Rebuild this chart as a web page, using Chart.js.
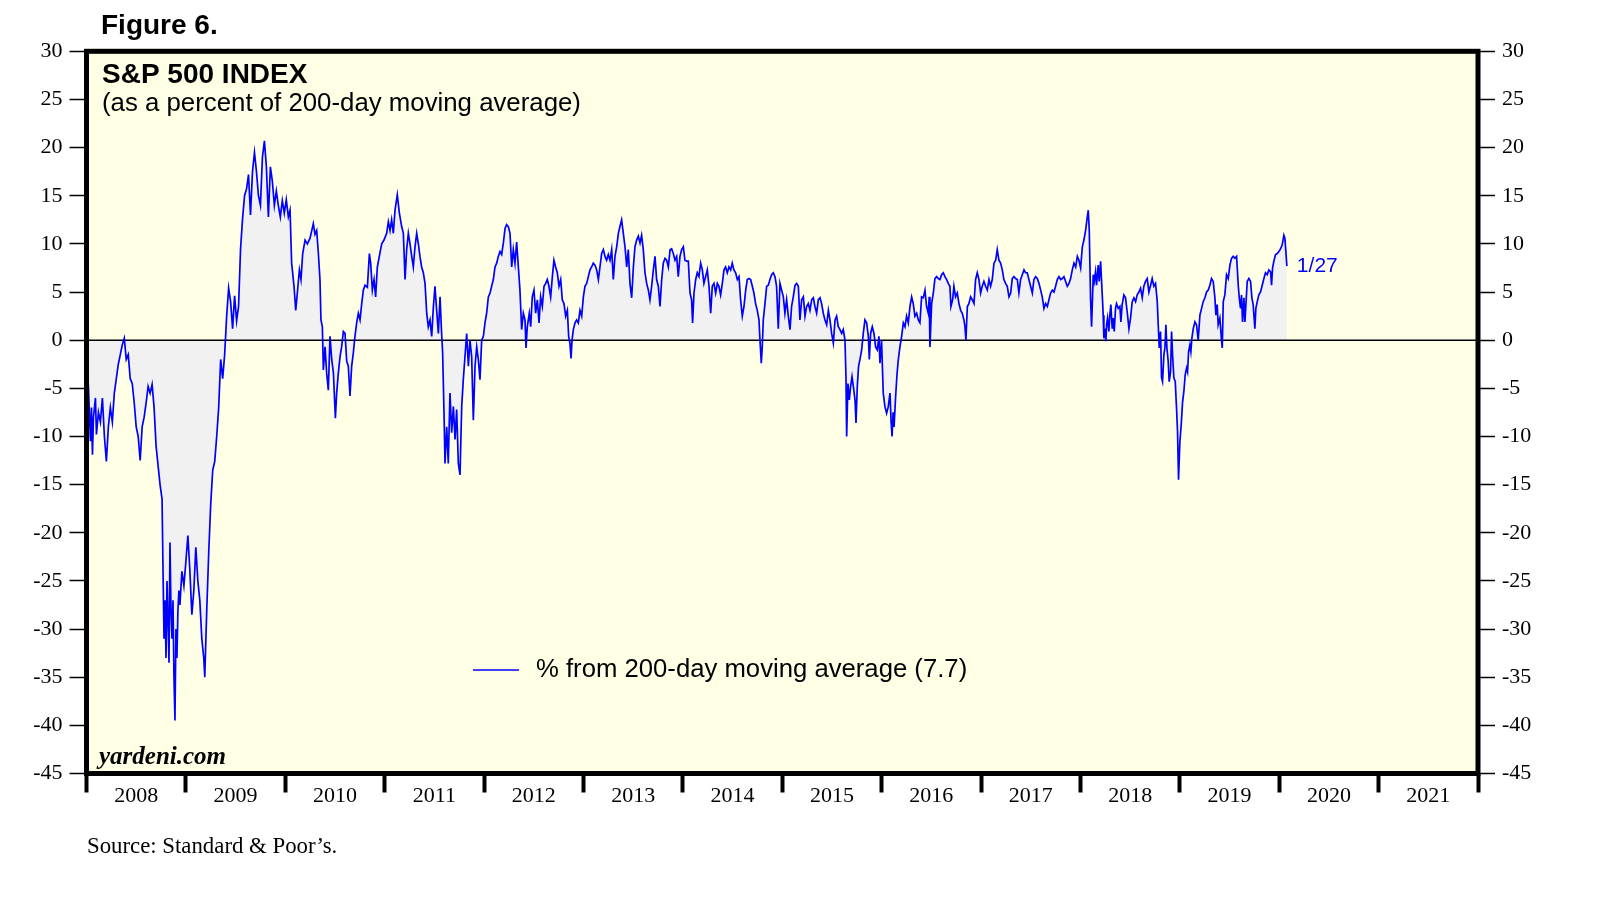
<!DOCTYPE html>
<html lang="en">
<head>
<meta charset="UTF-8">
<title>S&amp;P 500 Index - percent of 200-day moving average</title>
<script src="https://cdn.jsdelivr.net/npm/chart.js@4.4.1/dist/chart.umd.min.js"></script>
<style>
  body { margin: 0; background: #fff; }
  canvas { display: block; }
</style>
</head>
<body>
<canvas id="chart" width="1610" height="918"></canvas>
<script>
// year columns on the x axis
var yearLabels = ['2008', '2009', '2010', '2011', '2012', '2013', '2014',
                  '2015', '2016', '2017', '2018', '2019', '2020', '2021'];

// dates as decimal years
var dates = [
  2008.00, 2008.02, 2008.04, 2008.05, 2008.06, 2008.07, 2008.09, 2008.10, 2008.12, 2008.14,
  2008.16, 2008.18, 2008.20, 2008.22, 2008.24, 2008.26, 2008.28, 2008.30, 2008.32, 2008.34,
  2008.36, 2008.38, 2008.40, 2008.42, 2008.44, 2008.46, 2008.48, 2008.50, 2008.52, 2008.54,
  2008.56, 2008.58, 2008.60, 2008.62, 2008.64, 2008.66, 2008.68, 2008.70, 2008.72, 2008.74,
  2008.76, 2008.77, 2008.78, 2008.79, 2008.80, 2008.81, 2008.82, 2008.83, 2008.84, 2008.85,
  2008.86, 2008.87, 2008.88, 2008.89, 2008.90, 2008.91, 2008.92, 2008.93, 2008.94, 2008.96,
  2008.98, 2009.00, 2009.02, 2009.04, 2009.06, 2009.08, 2009.10, 2009.12, 2009.14, 2009.16,
  2009.18, 2009.19, 2009.21, 2009.23, 2009.25, 2009.27, 2009.29, 2009.31, 2009.33, 2009.35,
  2009.37, 2009.39, 2009.41, 2009.43, 2009.45, 2009.47, 2009.49, 2009.51, 2009.53, 2009.55,
  2009.57, 2009.59, 2009.61, 2009.63, 2009.65, 2009.67, 2009.69, 2009.71, 2009.73, 2009.75,
  2009.77, 2009.79, 2009.81, 2009.83, 2009.85, 2009.87, 2009.89, 2009.91, 2009.93, 2009.95,
  2009.97, 2009.99, 2010.01,
  2010.031, 2010.048, 2010.064, 2010.088, 2010.105, 2010.121, 2010.142, 2010.158, 2010.175, 2010.199,
  2010.222, 2010.249, 2010.282, 2010.299, 2010.316, 2010.333, 2010.349, 2010.359, 2010.373, 2010.383,
  2010.400, 2010.416, 2010.433, 2010.450, 2010.467, 2010.484, 2010.504, 2010.517, 2010.534, 2010.551,
  2010.567, 2010.584, 2010.601, 2010.618, 2010.634, 2010.651, 2010.668, 2010.685, 2010.701, 2010.718,
  2010.735, 2010.752, 2010.769, 2010.785, 2010.802, 2010.826, 2010.846, 2010.859, 2010.876, 2010.893,
  2010.909, 2010.926, 2010.946, 2010.970, 2010.993, 2011.020, 2011.037, 2011.054, 2011.070, 2011.087,
  2011.104, 2011.127, 2011.148, 2011.171, 2011.188, 2011.205, 2011.221, 2011.238, 2011.255, 2011.272,
  2011.288, 2011.305, 2011.322, 2011.339, 2011.355, 2011.372, 2011.389, 2011.406, 2011.423, 2011.439,
  2011.456, 2011.473, 2011.490, 2011.506, 2011.523, 2011.540, 2011.557, 2011.573, 2011.583, 2011.597,
  2011.607, 2011.624, 2011.640, 2011.657, 2011.674, 2011.691, 2011.708, 2011.724, 2011.741, 2011.758,
  2011.775, 2011.791, 2011.808, 2011.825, 2011.842, 2011.858, 2011.875, 2011.892, 2011.909, 2011.926,
  2011.942, 2011.959, 2011.976, 2011.993, 2012.009, 2012.026, 2012.043,
  2012.060, 2012.076, 2012.093, 2012.110, 2012.127, 2012.143, 2012.160, 2012.177, 2012.194, 2012.211,
  2012.227, 2012.244, 2012.261, 2012.278, 2012.294, 2012.311, 2012.328, 2012.345, 2012.361, 2012.378,
  2012.395, 2012.412, 2012.422, 2012.435, 2012.455, 2012.469, 2012.485, 2012.502, 2012.519, 2012.536,
  2012.553, 2012.569, 2012.586, 2012.603, 2012.620, 2012.636, 2012.653, 2012.670, 2012.687, 2012.703,
  2012.720, 2012.737, 2012.754, 2012.771, 2012.787, 2012.804, 2012.821, 2012.838, 2012.851, 2012.864,
  2012.875, 2012.885, 2012.898, 2012.915, 2012.931, 2012.948, 2012.965, 2012.982, 2012.999, 2013.015,
  2013.032, 2013.049, 2013.066, 2013.082, 2013.099, 2013.116, 2013.133, 2013.150, 2013.166, 2013.183,
  2013.200, 2013.217, 2013.233, 2013.250, 2013.267, 2013.284, 2013.300, 2013.317, 2013.334, 2013.351,
  2013.367, 2013.384, 2013.401, 2013.418, 2013.435, 2013.451, 2013.468, 2013.485, 2013.502, 2013.518,
  2013.535, 2013.552, 2013.569, 2013.585, 2013.602, 2013.619, 2013.636, 2013.653, 2013.669, 2013.686,
  2013.703, 2013.720, 2013.736, 2013.753, 2013.770, 2013.787, 2013.803, 2013.820, 2013.837, 2013.854,
  2013.871, 2013.887, 2013.904, 2013.921, 2013.938, 2013.954,
  2013.971, 2013.988, 2014.005, 2014.021, 2014.038, 2014.055, 2014.072, 2014.088, 2014.098, 2014.112,
  2014.129, 2014.145, 2014.162, 2014.179, 2014.196, 2014.212, 2014.229, 2014.246, 2014.263, 2014.280,
  2014.296, 2014.313, 2014.330, 2014.347, 2014.363, 2014.380, 2014.397, 2014.414, 2014.430, 2014.447,
  2014.464, 2014.481, 2014.497, 2014.514, 2014.531, 2014.548, 2014.565, 2014.581, 2014.598, 2014.615,
  2014.632, 2014.648, 2014.665, 2014.682, 2014.699, 2014.715, 2014.732, 2014.749, 2014.766, 2014.776,
  2014.789, 2014.799, 2014.809, 2014.826, 2014.843, 2014.860, 2014.876, 2014.893, 2014.910, 2014.927,
  2014.943, 2014.960, 2014.977, 2014.994, 2015.011, 2015.027, 2015.044, 2015.061, 2015.078, 2015.094,
  2015.111, 2015.128, 2015.145, 2015.162, 2015.178, 2015.195, 2015.212, 2015.229, 2015.245, 2015.262,
  2015.279, 2015.296, 2015.313, 2015.329, 2015.346, 2015.363, 2015.380, 2015.396, 2015.413, 2015.430,
  2015.447, 2015.464, 2015.480, 2015.497, 2015.514, 2015.531, 2015.547, 2015.564, 2015.581, 2015.598,
  2015.614, 2015.631, 2015.641, 2015.648, 2015.661, 2015.675, 2015.688, 2015.702, 2015.715, 2015.732,
  2015.742, 2015.755, 2015.768, 2015.782, 2015.799, 2015.815, 2015.832, 2015.849, 2015.866, 2015.876,
  2015.889, 2015.906, 2015.923, 2015.939, 2015.956, 2015.973, 2015.983, 2015.999, 2016.016, 2016.033,
  2016.050, 2016.067, 2016.084, 2016.095, 2016.105, 2016.115, 2016.125, 2016.140, 2016.155, 2016.168,
  2016.184, 2016.201, 2016.218, 2016.235, 2016.251, 2016.268, 2016.285, 2016.302, 2016.318, 2016.335,
  2016.352, 2016.369, 2016.385, 2016.402, 2016.419, 2016.436, 2016.452, 2016.469, 2016.479, 2016.486,
  2016.503, 2016.520, 2016.536, 2016.553, 2016.570, 2016.587, 2016.603, 2016.620, 2016.637, 2016.654,
  2016.670, 2016.687, 2016.697, 2016.714, 2016.727, 2016.744, 2016.761, 2016.778, 2016.795, 2016.811,
  2016.828, 2016.838, 2016.848, 2016.862, 2016.878, 2016.895, 2016.912, 2016.929, 2016.945, 2016.962,
  2016.979, 2016.996, 2017.012, 2017.029, 2017.046, 2017.063, 2017.080, 2017.096, 2017.113, 2017.130,
  2017.147, 2017.163, 2017.180, 2017.197, 2017.214, 2017.230, 2017.247, 2017.264, 2017.281, 2017.298,
  2017.314, 2017.331, 2017.348, 2017.365, 2017.381, 2017.398, 2017.415, 2017.432, 2017.448, 2017.465,
  2017.482, 2017.499, 2017.516, 2017.532, 2017.549, 2017.566, 2017.583, 2017.600, 2017.616, 2017.633,
  2017.650, 2017.667, 2017.683, 2017.700, 2017.717, 2017.734, 2017.750, 2017.767, 2017.784, 2017.801,
  2017.817, 2017.834, 2017.851, 2017.868, 2017.885, 2017.901, 2017.918, 2017.935, 2017.952, 2017.969,
  2017.985, 2018.002, 2018.019, 2018.035, 2018.052, 2018.069, 2018.079, 2018.089,
  2018.102, 2018.112, 2018.129, 2018.139, 2018.152, 2018.162, 2018.179, 2018.189, 2018.203, 2018.213,
  2018.223, 2018.229, 2018.236, 2018.246, 2018.256, 2018.263, 2018.273, 2018.286, 2018.296, 2018.306,
  2018.320, 2018.330, 2018.340, 2018.353, 2018.363, 2018.380, 2018.397, 2018.407, 2018.420, 2018.437,
  2018.454, 2018.471, 2018.488, 2018.504, 2018.521, 2018.538, 2018.555, 2018.571, 2018.588, 2018.605,
  2018.622, 2018.638, 2018.655, 2018.672, 2018.689, 2018.706, 2018.722, 2018.739, 2018.756, 2018.773,
  2018.783, 2018.793, 2018.806, 2018.816, 2018.826, 2018.840, 2018.850, 2018.860, 2018.870, 2018.883,
  2018.893, 2018.907, 2018.917, 2018.927, 2018.940, 2018.954, 2018.967, 2018.977, 2018.987, 2019.001,
  2019.014, 2019.028, 2019.041, 2019.054, 2019.068, 2019.078, 2019.088, 2019.101, 2019.111, 2019.121,
  2019.135, 2019.152, 2019.168, 2019.185, 2019.202, 2019.219, 2019.235, 2019.252, 2019.269, 2019.286,
  2019.302, 2019.319, 2019.336, 2019.353, 2019.363, 2019.376, 2019.386, 2019.403, 2019.420, 2019.427,
  2019.437, 2019.453, 2019.470, 2019.487, 2019.504, 2019.520, 2019.537, 2019.554, 2019.571, 2019.588,
  2019.598, 2019.611, 2019.621, 2019.631, 2019.645, 2019.655, 2019.665, 2019.678, 2019.695, 2019.712,
  2019.725, 2019.738, 2019.755, 2019.765, 2019.779, 2019.795, 2019.812, 2019.829, 2019.846, 2019.862,
  2019.879, 2019.896, 2019.913, 2019.923, 2019.933, 2019.946, 2019.963, 2019.980, 2019.997, 2020.014,
  2020.030, 2020.047, 2020.057, 2020.067, 2020.077
];

// % from 200-day moving average, same order as dates
var pctFromMA = [
  -1.2, -5.0, -10.5, -7, -11.9, -8, -6, -9.8, -7.5, -8.5,
  -6, -10, -12.6, -9, -7, -8.5, -5.5, -4, -2.5, -1.5,
  -0.5, 0.2, -2, -1.5, -4, -4.5, -6.5, -9, -10, -12.5,
  -9, -8, -6.5, -4.8, -5.5, -4.6, -7, -11, -13, -15,
  -16.5, -24, -31, -27, -33, -25, -29, -33.5, -21, -28,
  -31, -27, -35, -39.5, -30, -33, -28, -26, -27.5, -24,
  -25.5, -23, -20.3, -24, -28.5, -26, -21.5, -25, -27, -31,
  -33, -35, -28, -22, -17, -13.5, -12.6, -10, -7, -2,
  -4, -1.5, 2.5, 5.4, 4, 1.2, 4.6, 2, 3.5, 9.5,
  12.6, 15, 15.7, 17.2, 13, 17.5, 19.5, 17.5, 15, 14,
  19, 20.7, 18, 12.8, 18, 16.5, 14, 15.5, 14, 12.8,
  14.5, 13.2, 14.6,
  12.8, 13.5, 8, 5.6, 3.1, 4.9, 7.3, 6.3, 9, 10.4,
  10, 10.6, 12.1, 11, 11.4, 9, 6.3, 2.1, 1.4, -3.1,
  -0.7, -3.4, -5.2, 0.4, -2, -3.4, -8.1, -5.5, -3.4, -1.7,
  -0.7, 0.9, 0.7, -2.2, -2.7, -5.8, -2.7, -1.3, 0.4, 1.8,
  2.8, 2.1, 3.8, 5.2, 5.7, 5.5, 9, 8, 5.2, 6.3,
  4.5, 7.6, 8.7, 10, 10.4, 11.1, 12.3, 11.4, 12.5, 11.1,
  13.5, 15.1, 13.2, 11.8, 11.1, 6.3, 9.4, 11.1, 10, 8.7,
  7.6, 9.7, 11.1, 10, 8.7, 7.6, 7, 5.9, 2.8, 1.4,
  2.1, 0.4, 3.5, 5.6, 3.1, 0.7, 4.5, 0.7, -1.3, -7.6,
  -12.8, -9, -12.8, -5.5, -9.6, -6.9, -10.3, -7.2, -12.8, -14,
  -6.9, -4.1, -1.7, 0.7, -2.7, 0, -1.7, -8.3, -2.7, -0.7,
  -2, -4.1, 0, 0.4, 1.8, 2.8, 4.5,
  4.9, 5.6, 6.3, 7.6, 8, 8.7, 9.2, 8.9, 10.1, 11.6,
  12, 11.8, 11.1, 7.6, 9.4, 8, 10.2, 7.6, 5.2, 1.1,
  2.8, 2.1, -0.8, 1.4, 2.8, 1.4, 4.5, 5.2, 2.8, 4.2,
  1.8, 4.5, 3.5, 5.6, 5.9, 6.3, 5.6, 4.5, 6.6, 8.3,
  7.6, 7, 5.6, 6.3, 4.2, 3.8, 2.5, 3.1, 0.4, -0.3,
  -1.9, 0, 1.1, 1.8, 2.1, 1.8, 3.1, 2.5, 4.5, 5.6,
  5.9, 6.6, 7.3, 7.6, 8, 7.8, 7.3, 6.3, 7.6, 9,
  9.4, 8.7, 8.3, 8.9, 8.3, 9.4, 6.3, 8.7, 9.7, 11.1,
  11.8, 12.5, 11.1, 9.7, 7.6, 9.4, 5.9, 4.4, 7.6, 9.7,
  10.4, 10.8, 10.1, 10.9, 9.4, 7, 5.9, 5.2, 4.2, 5.6,
  7.3, 8.7, 6.3, 5.6, 3.5, 6.3, 8, 8.5, 8.3, 7.6,
  9.4, 9.5, 9, 8.3, 8.7, 6.6,
  8.7, 9.4, 9.7, 8.3, 8.2, 8.2, 4.9, 4.2, 1.8, 4.9,
  6.3, 7, 6.6, 8, 7.3, 5.9, 6.6, 7.3, 5.6, 2.8,
  5.6, 5.9, 4.9, 5.9, 5.6, 4.7, 5.9, 7.3, 7.6, 7,
  7.6, 7.3, 8, 7.3, 7, 6.3, 6.6, 4.2, 2.5, 3.5,
  5.2, 6.3, 6.4, 6.3, 5.6, 4.9, 3.8, 3.1, 2.1, 0,
  -2.4, -0.7, 2.1, 3.8, 5.6, 5.7, 6.3, 6.8, 7, 6.6,
  5.6, 1.2, 5.9, 5.2, 4.5, 2.8, 4.2, 2.5, 1.1, 3.5,
  4.5, 5.7, 5.9, 5.6, 2.1, 4.2, 4.5, 2.5, 3.5, 3.8,
  3.1, 4.2, 4.4, 3.5, 2.8, 4.2, 4.4, 3.8, 2.8, 2.1,
  1.6, 3.1, 2.1, 0.7, -0.3, 2.1, 2.5, 1.4, 1.1, 0.7,
  1.1, 0, -3.8, -10, -4.5, -6.2, -4.8, -3.8, -4.8, -6.2,
  -8.6, -4.8, -2.7, -2, -1, 0.7, 2.1, 1.8, 0.4, -2,
  0.7, 1.4, 0.7, -0.7, -1, 0.4, -2.4, 0, -5.5, -6.9,
  -7.6, -6.9, -5.5, -8.5, -10, -7.5, -9, -6, -3.5, -2,
  -0.7, 0.4, 1.8, 1.4, 2.5, 1.8, 3.5, 4.5, 3.8, 2.5,
  2.8, 2.1, 1.8, 4.5, 4.4, 5.2, 3.5, 2.8, 4.5, -0.7,
  3.8, 4.9, 6.4, 6.6, 6.4, 6.3, 6.8, 7, 6.6, 6.3,
  5.9, 5.6, 3.5, 4.2, 5.6, 4.5, 4.9, 3.8, 3.1, 2.8,
  2.1, 1.4, 0, 3.5, 3.8, 4.5, 4.2, 3.8, 6.3, 7,
  6.3, 4.9, 5.6, 6.1, 5.6, 5.2, 6.3, 5.6, 6.3, 8,
  8.3, 9.4, 8.3, 8, 7.3, 6.3, 5.9, 5.6, 4.5, 4.9,
  6.4, 6.6, 6.4, 6.3, 4.9, 6.3, 6.8, 7.3, 7, 7,
  6.3, 5.6, 4.9, 6.3, 6.6, 6.4, 5.9, 5.2, 4.5, 3.3,
  3.8, 3.5, 4.2, 4.9, 5.2, 5, 5.6, 6.3, 6.6, 6.3,
  6.4, 6.6, 6.1, 5.6, 5.9, 6.4, 7.3, 8, 7.6, 8.7,
  8.3, 7.5, 9.7, 10.4, 11.4, 12.8, 13.5, 11.4,
  4.3, 1.4, 6.8, 6.1, 7.1, 5.7, 7.8, 6.1, 8.2, 6.1,
  4, 2.6, 0.2, 1.2, -0.1, 1.6, 2.3, 0.9, 2.6, 3.7,
  1.2, 2.3, 0.9, 3.3, 3.8, 3.3, 3.5, 1.9, 3.7, 4.7,
  4.4, 2.9, 1.2, 2.3, 4, 4.4, 4, 4.7, 5, 5.4,
  4.4, 5.6, 6.1, 6.4, 5, 5.7, 6.4, 5.6, 5.9, 4,
  1.6, -0.8, 0.9, -3.9, -4.3, -1.5, -0.8, 1.6, -0.8, -2.2,
  -4.3, -3.3, 0.9, -1.5, -3.9, -4.3, -7.1, -9.5, -14.5, -10.5,
  -8.8, -6.4, -5.3, -3.6, -2.9, -3.3, -1.2, -0.5, -1.2, 0.2,
  1.2, 1.9, 1.6, 0, 2.6, 3.3, 4, 4.4, 5, 5.2,
  5.7, 6.4, 6.1, 4.4, 2.6, 3.7, 1.6, 2.3, -0.1, -0.8,
  4, 4.7, 6.8, 6.4, 7.8, 8.5, 8.7, 8.5, 8.7, 5.7,
  4.4, 3.3, 4.7, 1.9, 4.4, 1.9, 3.7, 6.1, 6.4, 6.1,
  4.4, 3.7, 1.2, 3.3, 4, 4.7, 5, 5.7, 6.4, 7,
  6.8, 7.3, 7.1, 5.7, 7.5, 8.2, 8.9, 9, 9.2, 9.5,
  9.9, 10.9, 10.6, 9.2, 7.7
];

var yMin = -45, yMax = 30, yStep = 5;
var lastDateLabel = '1/27';
var seriesName = '% from 200-day moving average';

var points = dates.map(function (d, i) { return { x: d, y: pctFromMA[i] }; });

var sans = "'Liberation Sans', Arial, sans-serif";
var serif = "'Liberation Serif', 'Times New Roman', serif";

var framePlugin = {
  id: 'frame',
  beforeDraw: function (chart) {
    var a = chart.chartArea, c = chart.ctx;
    c.save();
    c.fillStyle = '#ffffe6';
    c.fillRect(a.left, a.top, a.right - a.left, a.bottom - a.top);
    c.restore();
  },
  beforeDatasetsDraw: function (chart) {
    // zero line, above the grey fill
    var a = chart.chartArea, c = chart.ctx;
    var y0 = chart.scales.y.getPixelForValue(0);
    c.save();
    c.strokeStyle = '#000';
    c.lineWidth = 1.5;
    c.beginPath();
    c.moveTo(a.left, y0);
    c.lineTo(a.right, y0);
    c.stroke();
    c.restore();
  },
  afterDraw: function (chart) {
    var a = chart.chartArea, c = chart.ctx;
    c.save();
    c.strokeStyle = '#000';
    c.lineWidth = 5;
    c.strokeRect(a.left, a.top, a.right - a.left, a.bottom - a.top);

    c.fillStyle = '#000';
    c.textAlign = 'left';
    c.textBaseline = 'alphabetic';
    c.font = 'bold 28px ' + sans;
    c.fillText('Figure 6.', 101, 34);
    c.fillText('S&P 500 INDEX', 102, 83);
    c.font = '25.8px ' + sans;
    c.fillText('(as a percent of 200-day moving average)', 102, 111);

    c.font = 'bold italic 25px ' + serif;
    c.fillText('yardeni.com', 99, 764);

    c.font = '22.8px ' + serif;
    c.fillText('Source: Standard & Poor\u2019s.', 87, 853);

    // legend
    c.strokeStyle = '#0000ff';
    c.lineWidth = 1.5;
    c.beginPath();
    c.moveTo(473, 670);
    c.lineTo(519, 670);
    c.stroke();
    c.fillStyle = '#000';
    c.font = '25.7px ' + sans;
    c.textBaseline = 'middle';
    c.fillText(seriesName + ' (' + pctFromMA[pctFromMA.length - 1] + ')', 536, 670);

    // date tag at the last point
    var meta = chart.getDatasetMeta(0);
    var last = meta.data[meta.data.length - 1];
    c.fillStyle = '#0000ff';
    c.font = '21px ' + sans;
    c.fillText(lastDateLabel, last.x + 10, last.y);
    c.restore();
  }
};

var yTickFont = { family: serif, size: 22 };

var ctx = document.getElementById('chart').getContext('2d');
var chart = new Chart(ctx, {
  type: 'line',
  data: {
    datasets: [{
      label: seriesName,
      data: points,
      borderColor: '#0000ff',
      borderWidth: 1.7,
      pointRadius: 0,
      tension: 0,
      fill: 'origin',
      backgroundColor: '#f1f1f1'
    }]
  },
  options: {
    responsive: false,
    animation: false,
    layout: { padding: { top: 51.3, left: 0, right: 0, bottom: 0 } },
    plugins: {
      legend: { display: false },
      tooltip: { enabled: false },
      filler: { drawTime: 'beforeDatasetsDraw' }
    },
    scales: {
      x: {
        type: 'linear',
        min: 2008,
        max: 2008 + yearLabels.length,
        afterBuildTicks: function (axis) {
          var t = [];
          yearLabels.forEach(function (lab, i) {
            t.push({ value: 2008 + i });
            t.push({ value: 2008 + i + 0.5 });
          });
          t.push({ value: 2008 + yearLabels.length });
          axis.ticks = t;
        },
        afterFit: function (axis) { axis.height = 144.5; },
        border: { display: false },
        grid: {
          drawOnChartArea: false,
          tickLength: 19,
          tickWidth: 4,
          tickColor: function (c) {
            return Number.isInteger(c.tick.value) ? '#000' : 'rgba(0,0,0,0)';
          }
        },
        ticks: {
          autoSkip: false,
          maxRotation: 0,
          padding: -9,
          color: '#000',
          font: { family: serif, size: 22 },
          callback: function (v) {
            var i = v - 2008.5;
            return Number.isInteger(i) ? yearLabels[i] : '';
          }
        }
      },
      y: {
        position: 'left',
        min: yMin,
        max: yMax,
        afterFit: function (axis) { axis.width = 86.5; },
        border: { display: false },
        grid: {
          color: 'rgba(0,0,0,0)',
          tickColor: '#000',
          tickLength: 17,
          tickWidth: 1.5
        },
        ticks: { stepSize: yStep, padding: 7, color: '#000', font: yTickFont }
      },
      y2: {
        position: 'right',
        min: yMin,
        max: yMax,
        afterFit: function (axis) { axis.width = 132; },
        border: { display: false },
        grid: {
          drawOnChartArea: false,
          tickColor: '#000',
          tickLength: 17,
          tickWidth: 1.5
        },
        ticks: { stepSize: yStep, padding: 7, color: '#000', font: yTickFont }
      }
    }
  },
  plugins: [framePlugin]
});
</script>
</body>
</html>
